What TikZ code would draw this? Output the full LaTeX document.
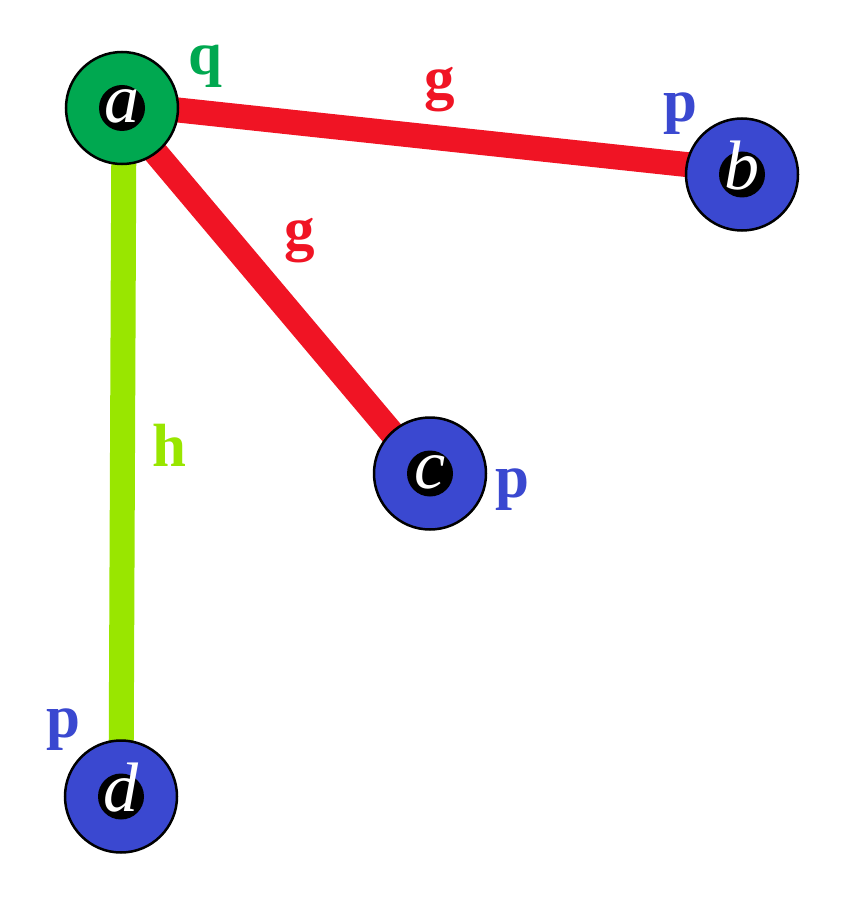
\documentclass[tikz,border=0pt]{standalone}
\usepackage{fontspec}
\setmainfont{Liberation Serif}
\usetikzlibrary{backgrounds}

\definecolor{vgreen}{RGB}{0,168,80}
\definecolor{vblue}{RGB}{58,72,208}
\definecolor{ered}{RGB}{240,20,36}
\definecolor{elime}{RGB}{153,230,0}

\begin{document}
\begin{tikzpicture}[x=1pt,y=-1pt,
    vertex/.style={circle,draw=black,line width=2.5pt,minimum size=112pt,inner sep=0pt,
      text=white,text height=30pt,text depth=0pt,
      font=\fontsize{70}{70}\selectfont\itshape,
      path picture={\fill[black] (path picture bounding box.center) circle (23pt);}},
    lbl/.style={inner sep=0pt,font=\fontsize{61}{61}\selectfont\bfseries},
    link/.style={line width=25pt}]
      \useasboundingbox (0,0) rectangle (861,917);

      \node[vertex,fill=vgreen] (a) at (122,108) {a};
      \node[vertex,fill=vblue] (b) at (742,174.5) {b};
      \node[vertex,fill=vblue] (c) at (430,473.5) {c};
      \node[vertex,fill=vblue] (d) at (121,796.5) {d};

      \node[lbl,text=vgreen] (qa) at (205.5,66.5) {q};
      \node[lbl,text=vblue] (pb) at (680,114) {p};
      \node[lbl,text=vblue] (pc) at (512.5,490) {p};
      \node[lbl,text=vblue] (pd) at (63.5,730) {p};
      \node[lbl,text=ered] (gab) at (440,89.5) {g};
      \node[lbl,text=ered] (gac) at (299.5,240.5) {g};
      \node[lbl,text=elime] (had) at (169.5,445.5) {h};

      \begin{scope}[on background layer]
      \path[link]
      ([yshift=4pt]a.center) edge[ered] ([yshift=4pt]b.center)
      ([xshift=-4pt]a.center) edge[ered] ([xshift=-4pt]c.center)
      ([xshift=2pt]a.center) edge[elime] (d.center)
      ;
      \end{scope}
    \end{tikzpicture}
\end{document}
